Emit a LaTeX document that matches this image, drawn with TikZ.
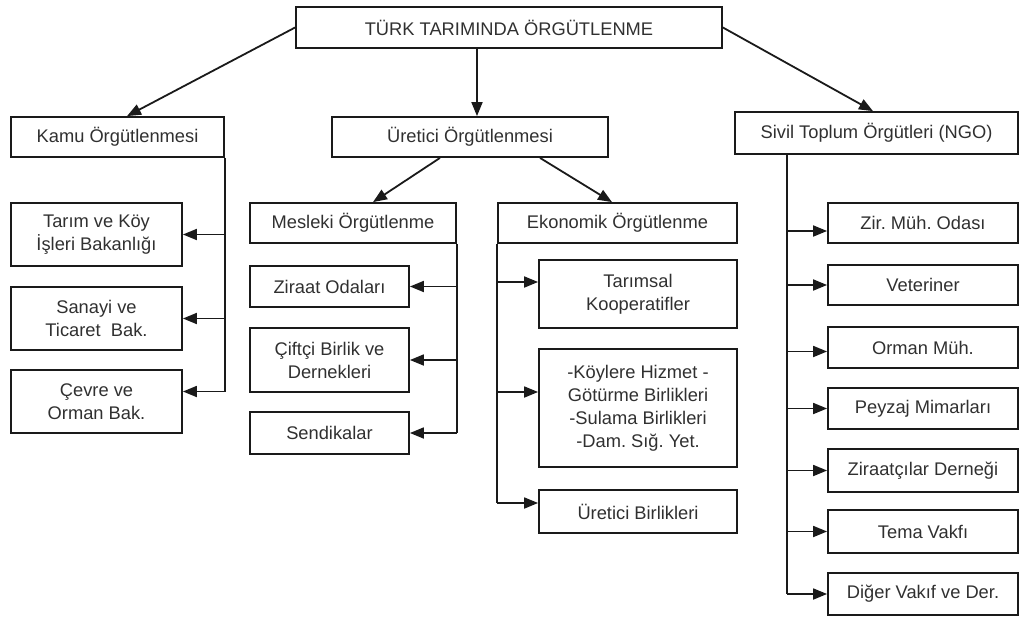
\documentclass[tikz,border=0pt]{standalone}
\usepackage{fontspec}
\setmainfont{Liberation Sans}
\usetikzlibrary{arrows.meta}
\definecolor{ink}{HTML}{1A1A1A}
\definecolor{txt}{HTML}{303030}
\frenchspacing
\begin{document}
\begin{tikzpicture}[x=1pt,y=-1pt,
  box/.style={draw=ink, line width=1.8pt, inner sep=0pt, align=center, text=txt,
    font=\fontsize{18.3}{23}\selectfont},
  link/.style={draw=ink, line width=1.8pt},
  arr/.style={link, -{Triangle[length=14pt,width=11pt]}}]
\useasboundingbox (0,0) rectangle (1021,619);
% top level
\node[box, minimum width=426pt, minimum height=41pt] (top) at (509,27.5) {TÜRK TARIMINDA ÖRGÜTLENME};
\node[box, minimum width=213pt, minimum height=40pt] (kamu) at (117.5,137) {Kamu Örgütlenmesi};
\node[box, minimum width=276pt, minimum height=40pt] (uret) at (470,137) {Üretici Örgütlenmesi};
\node[box, minimum width=283pt, minimum height=42pt] (sivil) at (876.5,133) {Sivil Toplum Örgütleri (NGO)};
% kamu children
\node[box, minimum width=171pt, minimum height=63pt] (tarim) at (96.5,234.5) {Tarım ve Köy\\İşleri Bakanlığı};
\node[box, minimum width=171pt, minimum height=63pt] (sanayi) at (96.5,318.5) {Sanayi ve\\Ticaret~~Bak.};
\node[box, minimum width=171pt, minimum height=63pt] (cevre) at (96.5,401.5) {Çevre ve\\Orman Bak.};
% uretici children
\node[box, minimum width=206pt, minimum height=40pt] (mesleki) at (353,223) {Mesleki Örgütlenme};
\node[box, minimum width=239pt, minimum height=40pt] (ekon) at (617.5,223) {Ekonomik Örgütlenme};
\node[box, minimum width=159pt, minimum height=41pt] (ziraat) at (329.5,286.5) {Ziraat Odaları};
\node[box, minimum width=159pt, minimum height=64pt] (ciftci) at (329.5,360) {Çiftçi Birlik ve\\Dernekleri};
\node[box, minimum width=159pt, minimum height=42pt] (sendika) at (329.5,433) {Sendikalar};
\node[box, minimum width=198pt, minimum height=68pt] (tarimsal) at (638,294) {Tarımsal\\Kooperatifler};
\node[box, minimum width=198pt, minimum height=118pt] (koy) at (638,408) {-Köylere Hizmet -\\Götürme Birlikleri\\-Sulama Birlikleri\\-Dam. Sığ. Yet.};
\node[box, minimum width=198pt, minimum height=43pt] (uretb) at (638,511.5) {Üretici Birlikleri};
% sivil children
\node[box, minimum width=190pt, minimum height=40pt] (zir) at (923,223) {Zir. Müh. Odası};
\node[box, minimum width=190pt, minimum height=40pt] (vet) at (923,285) {Veteriner};
\node[box, minimum width=190pt, minimum height=41pt] (orman) at (923,347.5) {Orman Müh.};
\node[box, minimum width=190pt, minimum height=41pt] (peyzaj) at (923,408.5) {Peyzaj Mimarları};
\node[box, minimum width=190pt, minimum height=43pt] (ziraatci) at (923,470.5) {Ziraatçılar Derneği};
\node[box, minimum width=190pt, minimum height=43pt] (tema) at (923,531.5) {Tema Vakfı};
\node[box, minimum width=190pt, minimum height=42pt] (diger) at (923,594) {Diğer Vakıf ve Der.};
% top arrows
\draw[arr] (top.west) -- ([xshift=9.5pt]kamu.north);
\draw[arr] ([xshift=-32pt]top.south) -- ([xshift=-32pt]top.south |- uret.north);
\draw[arr] (top.east) -- ([xshift=-3.5pt]sivil.north);
\draw[arr] ([xshift=-30pt]uret.south) -- ([xshift=20pt]mesleki.north);
\draw[arr] ([xshift=70pt]uret.south) -- ([xshift=-5.5pt]ekon.north);
% kamu trunk
\coordinate (kb) at ([yshift=10pt]cevre.east -| kamu.south east);
\draw[link] (kamu.south east) -- (kb);
\draw[arr] (kamu.south east |- tarim.east) -- (tarim.east);
\draw[arr] (kamu.south east |- sanayi.east) -- (sanayi.east);
\draw[arr] (kb) -- ([yshift=10pt]cevre.east);
% mesleki trunk
\coordinate (mb) at (mesleki.south east |- sendika.east);
\draw[link] (mesleki.south east) -- (mb);
\draw[arr] (mesleki.south east |- ziraat.east) -- (ziraat.east);
\draw[arr] (mesleki.south east |- ciftci.east) -- (ciftci.east);
\draw[arr] (mb) -- (sendika.east);
% ekonomik trunk
\coordinate (eb) at ([yshift=8.5pt]uretb.west -| ekon.south west);
\draw[link] (ekon.south west) -- (eb);
\draw[arr] ([yshift=12pt]tarimsal.west -| ekon.south west) -- ([yshift=12pt]tarimsal.west);
\draw[arr] ([yshift=16pt]koy.west -| ekon.south west) -- ([yshift=16pt]koy.west);
\draw[arr] (eb) -- ([yshift=8.5pt]uretb.west);
% sivil trunk
\coordinate (st) at ([xshift=-89.5pt]sivil.south);
\coordinate (sb) at (st |- diger.west);
\draw[link] (st) -- (sb);
\draw[arr] ([yshift=-8pt]zir.west -| st) -- ([yshift=-8pt]zir.west);
\draw[arr] (st |- vet.west) -- (vet.west);
\draw[arr] ([yshift=-4pt]orman.west -| st) -- ([yshift=-4pt]orman.west);
\draw[arr] (st |- peyzaj.west) -- (peyzaj.west);
\draw[arr] (st |- ziraatci.west) -- (ziraatci.west);
\draw[arr] (st |- tema.west) -- (tema.west);
\draw[arr] (sb) -- (diger.west);
\end{tikzpicture}
\end{document}
